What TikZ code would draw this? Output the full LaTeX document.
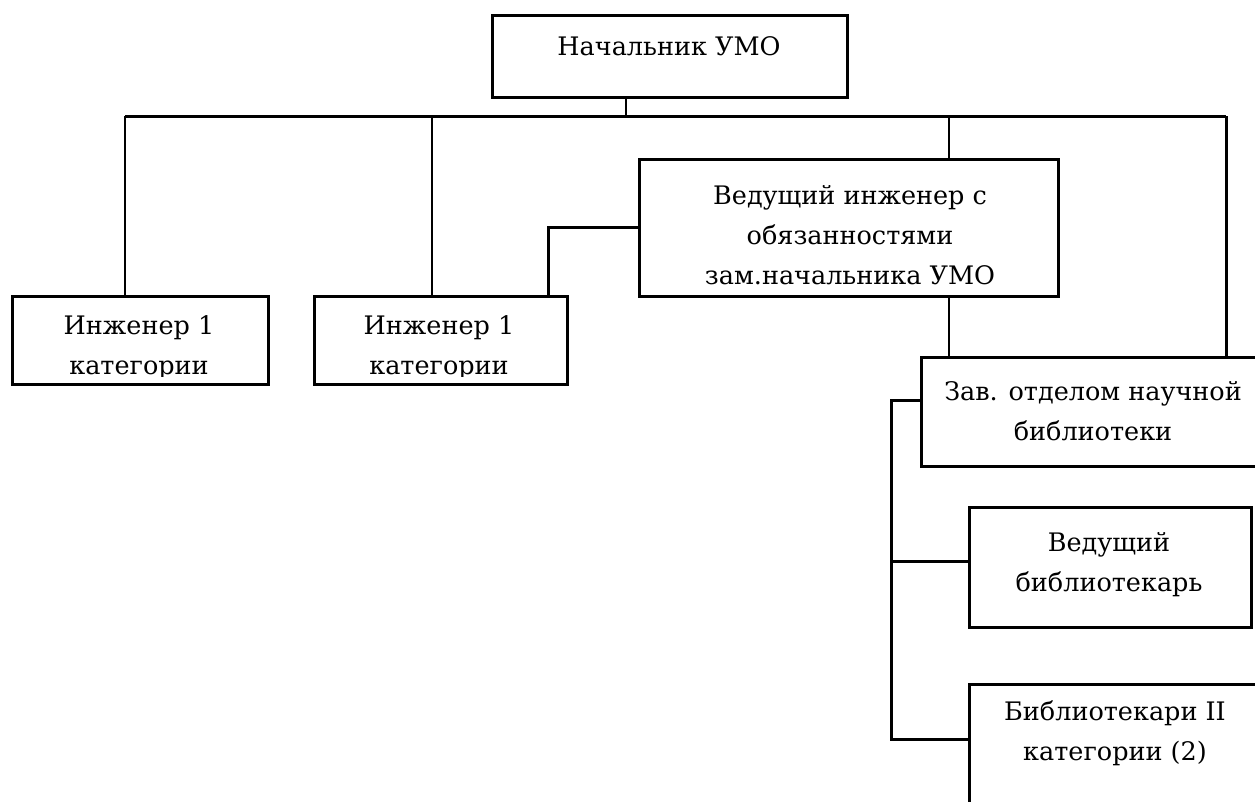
\documentclass[tikz,border=0pt]{standalone}
\usepackage{fontspec}
\newfontfamily\orgfont{DejaVu Serif}
\usepackage{tikz}
\usetikzlibrary{positioning, calc}

\begin{document}
\begin{tikzpicture}[
    x=1pt, y=-1pt,
    orgbox/.style={rectangle, draw=black, line width=3pt, inner sep=0pt},
    boxtext/.style={align=center, inner sep=0pt,
                    font=\orgfont\fontsize{25.5}{40}\selectfont},
    thinline/.style={line width=1.8pt},
    thickline/.style={line width=3pt},
  ]
    \useasboundingbox[fill=white] (0,0) rectangle (1255,801);

    % Top level
    \node[orgbox, minimum width=355pt, minimum height=82pt] (BOSS) at (669.5,56) {};
    \node[boxtext] (BOSS_T) at (669,46) {Начальник УМО};

    % Bus
    \coordinate (BUS_L) at (125,116);
    \coordinate (BUS_R) at (1226,116);
    \coordinate (BOSS_J) at (626,116);
    \coordinate (ENG2_J) at (432,116);
    \coordinate (ZAM_J) at (949,116);

    % Second level
    \node[orgbox, minimum width=419pt, minimum height=137pt] (ZAM) at (848.5,227.5) {};
    \node[boxtext] (ZAM_T) at (850,235)
      {Ведущий инженер с\\обязанностями\\зам.начальника УМО};

    \node[orgbox, minimum width=256pt, minimum height=88pt] (ENG1) at (140,340) {};
    \begin{scope}
      \clip ([yshift=9pt]ENG1.south west) rectangle (ENG1.north east);
      \node[boxtext] (ENG1_T) at (139,348) {Инженер 1\\категории};
    \end{scope}

    \node[orgbox, minimum width=253pt, minimum height=88pt] (ENG2) at (440.5,340) {};
    \begin{scope}
      \clip ([yshift=9pt]ENG2.south west) rectangle (ENG2.north east);
      \node[boxtext] (ENG2_T) at (439,348) {Инженер 1\\категории};
    \end{scope}

    % Library
    \node[orgbox, minimum width=344pt, minimum height=109pt] (ZAV) at (1093,411.5) {};
    \node[boxtext] (ZAV_T) at (1093,411.5) {Зав. отделом научной\\библиотеки};

    \node[orgbox, minimum width=282pt, minimum height=120pt] (VBIB) at (1110,567) {};
    \node[boxtext] (VBIB_T) at (1109,565) {Ведущий\\библиотекарь};

    \node[orgbox, minimum width=293pt, minimum height=146pt] (BIB2) at (1115.5,757) {};
    \node[boxtext] (BIB2_T) at (1115,733.5) {Библиотекари II\\категории (2)};

    % Connectors
    \draw[thinline] (BOSS_J) -- (BOSS_J |- BOSS.south);
    \draw[thickline] (BUS_L) -- (BUS_R);
    \draw[thinline] (BUS_L) -- (BUS_L |- ENG1.north);
    \draw[thinline] (ENG2_J) -- (ENG2_J |- ENG2.north);
    \draw[thinline] (ZAM_J) -- (ZAM_J |- ZAM.north);
    \draw[thickline] (BUS_R) -- (BUS_R |- ZAV.north);
    \draw[thickline] ([xshift=-20pt]ENG2.north east) |- (ZAM.west);
    \draw[thinline] (ZAM_J |- ZAM.south) -- (ZAM_J |- ZAV.north);

    \coordinate (SPINE) at (891,400);
    \coordinate (VBIB_J) at (891,561);
    \coordinate (SPINE_END) at (891,739);
    \draw[thickline] (SPINE -| ZAV.west) -- (SPINE) -- (SPINE_END)
      -- (SPINE_END -| BIB2.west);
    \draw[thickline] (VBIB_J) -- (VBIB_J -| VBIB.west);
\end{tikzpicture}
\end{document}
